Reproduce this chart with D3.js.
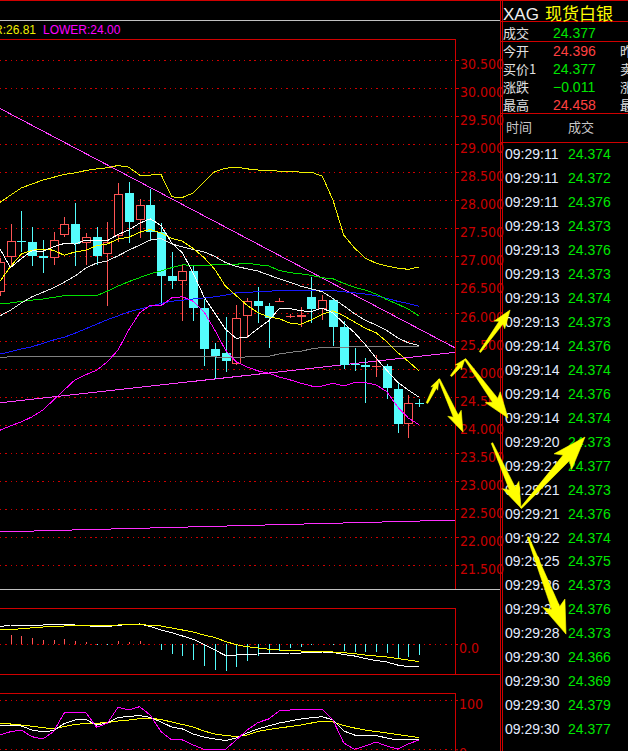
<!DOCTYPE html>
<html><head><meta charset="utf-8">
<script src="https://cdn.jsdelivr.net/npm/d3@7"></script>
<style>
html,body{margin:0;padding:0;background:#000;overflow:hidden;}
svg{display:block;font-family:"Liberation Sans",Arial,sans-serif;}
</style></head><body>
<svg id="c" width="628" height="751"></svg>
<script>
// ---------- DATA ----------
const opens  = [26.37,26.99,27.28,27.25,27.01,26.97,27.39,27.58,27.23,27.34,27.04,27.36,28.13,27.64,27.92,27.44,26.65,26.57,26.74,26.08,25.35,25.28,25.09,25.94,26.21,26.11,26.19,25.92,25.92,26.28,26.06,26.22,25.74,25.09,25.06,25.03,25.05,24.64,24.02,24.396];
const highs  = [26.98,27.58,27.81,27.52,27.29,27.44,27.71,27.96,27.42,27.52,27.62,28.30,28.33,28.03,28.20,27.60,27.08,26.85,26.83,26.24,25.45,25.92,26.13,26.26,26.46,26.17,26.26,25.97,26.09,26.64,26.31,26.25,25.84,25.37,25.19,25.25,25.09,24.74,24.53,24.458];
const lows   = [26.30,26.85,27.07,26.82,26.71,26.85,27.34,26.82,26.85,26.85,26.12,27.26,27.24,27.32,27.29,26.13,26.41,25.84,25.84,25.05,24.81,24.94,25.06,25.54,25.82,25.37,26.19,25.91,25.74,25.82,25.87,25.41,25.00,24.96,24.39,24.85,24.45,23.85,23.77,24.32];
const closes = [26.905,27.27,27.27,27.01,26.98,27.30,27.57,27.22,27.34,27.01,27.26,28.12,27.62,27.92,27.44,26.65,26.57,26.74,26.08,25.35,25.22,25.13,25.91,26.20,26.11,25.91,26.21,25.94,25.96,26.06,26.23,25.75,25.06,25.08,25.02,25.04,24.65,24.02,24.38,24.377];

const ma5  = [27.14,26.80,26.96,27.10,27.09,27.17,27.23,27.22,27.29,27.29,27.28,27.39,27.47,27.59,27.67,27.55,27.24,27.06,26.70,26.28,25.99,25.70,25.54,25.56,25.71,25.85,26.07,26.07,26.03,26.02,26.08,25.99,25.81,25.64,25.43,25.19,24.97,24.76,24.62,24.49];
const ma10 = [26.55,26.82,27.04,27.11,27.13,27.11,27.02,27.08,27.11,27.19,27.22,27.31,27.34,27.43,27.48,27.42,27.32,27.27,27.14,26.98,26.77,26.47,26.30,26.13,26.00,25.92,25.89,25.81,25.79,25.87,25.97,26.03,25.94,25.83,25.72,25.64,25.48,25.29,25.13,24.96];
const ma20 = [25.94,26.04,26.17,26.28,26.36,26.44,26.54,26.65,26.79,26.88,26.92,27.01,27.11,27.20,27.29,27.32,27.22,27.17,27.12,27.08,27.00,26.89,26.82,26.78,26.74,26.67,26.60,26.54,26.47,26.42,26.37,26.25,26.12,25.98,25.86,25.78,25.68,25.55,25.46,25.41];
const maGreen = [26.15,26.17,26.20,26.22,26.24,26.27,26.30,26.30,26.30,26.30,26.38,26.47,26.55,26.62,26.69,26.74,26.80,26.85,26.84,26.84,26.85,26.85,26.86,26.88,26.85,26.83,26.75,26.71,26.69,26.66,26.62,26.60,26.52,26.45,26.40,26.33,26.23,26.15,26.06,25.94];
const maBlue = [25.26,25.30,25.35,25.39,25.45,25.51,25.56,25.63,25.71,25.79,25.87,25.94,26.01,26.06,26.11,26.16,26.20,26.22,26.24,26.26,26.28,26.31,26.35,26.36,26.37,26.38,26.39,26.39,26.39,26.40,26.39,26.39,26.37,26.35,26.33,26.30,26.25,26.20,26.16,26.11];
const maGrey = [25.20,25.21,25.21,25.21,25.21,25.21,25.21,25.21,25.21,25.21,25.21,25.21,25.21,25.22,25.22,25.21,25.21,25.21,25.21,25.21,25.21,25.19,25.19,25.21,25.21,25.22,25.26,25.29,25.31,25.35,25.38,25.38,25.38,25.39,25.39,25.39,25.39,25.39,25.40,25.40];
const bollUpper = [27.96,28.09,28.22,28.29,28.36,28.41,28.46,28.49,28.53,28.56,28.58,28.62,28.59,28.45,28.45,28.46,28.06,28.05,28.13,28.33,28.51,28.57,28.59,28.56,28.54,28.53,28.52,28.52,28.50,28.50,28.43,28.00,27.38,27.15,26.97,26.88,26.83,26.79,26.77,26.81];
const bollLower = [23.90,23.98,24.05,24.14,24.26,24.44,24.62,24.80,24.89,24.97,25.12,25.33,25.69,25.99,26.13,26.12,26.26,26.28,26.20,26.01,25.69,25.33,25.12,25.03,24.96,24.92,24.85,24.80,24.74,24.69,24.69,24.74,24.69,24.75,24.75,24.71,24.59,24.32,24.12,24.00];

// drawn trend lines: [index, price] end points
const trendDown = [[-0.02,29.64],[42.35,25.37]];
const trendUp   = [[-0.02,24.39],[42.35,25.29]];
const trendLow  = [[-0.02,22.09],[42.35,22.30]];

const priceTicks = [30.5,30.0,29.5,29.0,28.5,28.0,27.5,27.0,26.5,26.0,25.5,25.0,24.5,24.0,23.5,23.0,22.5,22.0,21.5];

const macdBar = [0,0.09,0.08,0.057,0.04,0.04,0.05,0.03,0.023,-0.01,-0.01,0.03,0.023,0.033,0,-0.06,-0.103,-0.117,-0.16,-0.22,-0.26,-0.267,-0.227,-0.167,-0.12,-0.10,-0.067,-0.043,-0.033,-0.01,0,-0.01,-0.07,-0.083,-0.083,-0.077,-0.093,-0.143,-0.127,-0.11];
const macdDif = [0.173,0.19,0.19,0.19,0.19,0.195,0.197,0.19,0.187,0.17,0.175,0.187,0.195,0.20,0.175,0.14,0.113,0.08,0.047,-0.003,-0.06,-0.115,-0.11,-0.105,-0.10,-0.095,-0.093,-0.09,-0.09,-0.087,-0.08,-0.085,-0.105,-0.12,-0.145,-0.165,-0.18,-0.21,-0.227,-0.227];
const macdDea = [0.14,0.145,0.152,0.162,0.17,0.177,0.18,0.182,0.183,0.185,0.188,0.19,0.192,0.193,0.188,0.18,0.16,0.14,0.12,0.09,0.065,0.025,-0.007,-0.027,-0.04,-0.052,-0.06,-0.065,-0.07,-0.073,-0.075,-0.08,-0.087,-0.097,-0.11,-0.12,-0.13,-0.145,-0.16,-0.177];
const macdTicks = [0];

const kdjK = [47.3,47.3,47.3,39.1,35.7,37.7,52.3,59.4,60.4,49.3,53.3,64.5,66.5,68.6,64.5,55.4,45.2,41.2,31,24.9,20.9,17.8,22.9,33.1,41.2,47.3,53.3,57.4,61.5,64.1,66.1,59.4,37.1,29,29,28,22.9,18.9,18.9,20.3];
const kdjD = [52.7,51.3,49.3,46.7,44.2,41.2,46.2,50.3,52.3,52.7,54.4,57.4,59.4,62.1,62.9,60.4,55.4,50.3,45.2,37.1,31,28,26,29,36.1,40.2,43.2,46.2,49.3,53.3,57.4,55.4,48.3,43.2,39.1,36.1,33.1,30,27,23.5];
const kdjJ = [29,35.7,39,25.6,20.9,35.7,73.6,75,75,44.6,52.7,85.2,79.7,86.4,69.6,35.7,18.9,18.9,8.7,0,0,0,18.9,39,54,61.5,77.7,79.7,81.7,80.7,81.7,59.4,12.8,0,6.7,14.8,6.7,0.6,10.8,18.9];
const kdjTicks = [100,0];

const quoteName = ["XAG","现货白银"];
const lastLabel = "成交", lastPrice = 24.377;
const quoteLabels = ["今开","买价1","涨跌","最高"];
const quoteValues = [24.396,24.377,-0.011,24.458];
const quoteLabels2 = ["昨收","卖价1","涨幅","最低"];
const tradeHeader = ["时间","成交"];
const tradeTimes = ["09:29:11","09:29:11","09:29:11","09:29:13","09:29:13","09:29:13","09:29:13","09:29:13","09:29:14","09:29:14","09:29:14","09:29:14","09:29:20","09:29:21","09:29:21","09:29:21","09:29:22","09:29:25","09:29:26","09:29:27","09:29:28","09:29:30","09:29:30","09:29:30","09:29:30"];
const tradePrices = [24.374,24.372,24.376,24.373,24.376,24.373,24.374,24.373,24.376,24.374,24.376,24.374,24.373,24.377,24.373,24.376,24.374,24.375,24.373,24.376,24.373,24.366,24.369,24.379,24.377];

// hand-drawn arrows in chart coordinates: [i0, p0, i1, p1]
const arrows = [
  [39.74,24.386,40.86,24.814],
  [40.86,24.814,43.09,23.869],
  [41.98,24.867,43.28,25.17],
  [43.28,25.17,47.28,24.119],
  [44.67,25.295,47.47,26.044],
  [45.79,23.673,48.49,22.514],
  [48.49,22.514,54.44,23.78],
  [49.14,21.997,52.67,20.268]
];

// ---------- DRAW ----------
const svg = d3.select("#c");
const RED = "#d00000", AXRED = "#c80000";
const UP = "#ff5454", DN = "#54fcfc";
const NUM = '"Liberation Sans", Arial, sans-serif';
const CJK = '"Noto Sans CJK SC", "Noto Sans", sans-serif';
const NARROW = '"Liberation Sans Narrow", "DejaVu Sans Condensed", "Liberation Sans", sans-serif';

svg.append("rect").attr("width",628).attr("height",751).attr("fill","#000");

const x = d3.scaleLinear().domain([0,40]).range([-0.25,429.75]);
const y = d3.scaleLinear().domain([21.5,30.5]).range([565,60]);
const yM = d3.scaleLinear().domain([-0.30,0.36]).range([674,608]);
const yK = d3.scaleLinear().domain([0,100]).range([749.3,700]);
const idx = d3.range(opens.length);

function hline(x1,x2,yy,col,dash){
  const l = svg.append("line").attr("x1",x1).attr("x2",x2).attr("y1",yy).attr("y2",yy)
    .attr("stroke",col).attr("shape-rendering","crispEdges");
  if(dash) l.attr("stroke-dasharray",dash);
  return l;
}
function vline(xx,y1,y2,col){
  return svg.append("line").attr("x1",xx).attr("x2",xx).attr("y1",y1).attr("y2",y2)
    .attr("stroke",col).attr("shape-rendering","crispEdges");
}

// frame lines
hline(0,628,0.5,RED);
hline(0,500,20.5,"#c0c0c0");
hline(0,455,39.5,RED);
hline(0,500,589.5,"#c0c0c0");
hline(0,455,608.5,RED);
hline(0,500,674.5,RED);
hline(0,455,693.5,RED);
vline(455.5,39,589,RED);
vline(455.5,608,675,RED);
vline(455.5,693,751,RED);
vline(500.5,0,751,RED);
vline(502.5,0,751,RED);

// header text of main chart
svg.append("text").attr("x",36).attr("y",34).attr("text-anchor","end")
  .attr("fill","#f0f000").style("font-size","12px").style("font-family",NUM)
  .text("UPPER:"+d3.format(".2f")(bollUpper[bollUpper.length-1]));
svg.append("text").attr("x",43).attr("y",34)
  .attr("fill","#ff00ff").style("font-size","12px").style("font-family",NUM)
  .text("LOWER:"+d3.format(".2f")(bollLower[bollLower.length-1]));

// main clip
const defs = svg.append("defs");
defs.append("clipPath").attr("id","mc").append("rect").attr("x",0).attr("y",40).attr("width",455).attr("height",549);
const g = svg.append("g").attr("clip-path","url(#mc)");

// grid
g.selectAll("line.grid").data(priceTicks).join("line").attr("class","grid")
  .attr("x1",0).attr("x2",455)
  .attr("y1",d=>Math.round(y(d))+0.5).attr("y2",d=>Math.round(y(d))+0.5)
  .attr("stroke",RED).attr("stroke-dasharray","1.4,3.9").attr("shape-rendering","crispEdges");

// price axis
const ax = svg.append("g").attr("transform","translate(455,0)")
  .call(d3.axisRight(y).tickValues(priceTicks).tickFormat(d3.format(".3f")).tickSize(4).tickPadding(1));
ax.select(".domain").remove();
ax.selectAll(".tick line").attr("stroke",RED).attr("shape-rendering","crispEdges");
ax.selectAll(".tick").attr("transform",d=>`translate(0,${Math.round(y(d))+0.5})`);
ax.selectAll("text").attr("fill",AXRED).attr("dy","8.3px")
  .style("font-size","14px").style("font-family",NARROW).style("font-stretch","condensed");

// trend lines
const lineP = d3.line().x(d=>x(d[0])).y(d=>y(d[1]));
[[trendDown,"#ff40ff"],[trendUp,"#ff40ff"],[trendLow,"#ff30ff"]].forEach(([d,c])=>{
  g.append("path").attr("d",lineP(d)).attr("fill","none").attr("stroke",c).attr("stroke-width",1)
    .attr("shape-rendering","crispEdges");
});

// candles
const cd = idx.map(i=>({i,o:opens[i],h:highs[i],l:lows[i],c:closes[i]}));
const cg = g.append("g").attr("shape-rendering","crispEdges");
cd.forEach(d=>{
  const cx = Math.round(x(d.i));
  const up = d.c > d.o;
  const col = up ? UP : DN;
  cg.append("line").attr("x1",cx+0.5).attr("x2",cx+0.5).attr("y1",y(d.h)).attr("y2",y(d.l)).attr("stroke",col);
  const top = Math.round(y(Math.max(d.o,d.c))), bot = Math.round(y(Math.min(d.o,d.c)));
  const hgt = bot-top;
  if(hgt < 2){
    cg.append("rect").attr("x",cx-4).attr("y",top).attr("width",9).attr("height",Math.max(1,hgt)).attr("fill",col);
  } else if(up){
    cg.append("rect").attr("x",cx-3.5).attr("y",top+0.5).attr("width",8).attr("height",hgt-1)
      .attr("fill","#000").attr("stroke",col);
  } else {
    cg.append("rect").attr("x",cx-4).attr("y",top).attr("width",9).attr("height",hgt).attr("fill",col);
  }
});

// MA & band lines
const lineI = d3.line().x((d,i)=>x(i)).y(d=>y(d));
[[maGrey,"#808080"],[maBlue,"#1818ff"],[maGreen,"#00e000"],[bollUpper,"#f0f000"],[bollLower,"#ff00ff"],
 [ma20,"#e8e8e8"],[ma10,"#ffff00"],[ma5,"#ffffff"]].forEach(([d,c])=>{
  g.append("path").attr("d",lineI(d)).attr("fill","none").attr("stroke",c).attr("stroke-width",1)
    .attr("shape-rendering","crispEdges");
});

// ---------- MACD ----------
hline(0,455,Math.round(yM(0))+0.5,RED,"1.4,3.9");
const mg = svg.append("g").attr("shape-rendering","crispEdges");
mg.selectAll("line").data(idx).join("line")
  .attr("x1",i=>Math.round(x(i))+0.5).attr("x2",i=>Math.round(x(i))+0.5)
  .attr("y1",yM(0)).attr("y2",i=>yM(macdBar[i]))
  .attr("stroke",i=>macdBar[i]>=0?UP:DN);
const lineM = d3.line().x((d,i)=>x(i)).y(d=>yM(d));
[[macdDif,"#ffffff"],[macdDea,"#ffff00"]].forEach(([d,c])=>{
  svg.append("path").attr("d",lineM(d)).attr("fill","none").attr("stroke",c).attr("shape-rendering","crispEdges");
});
const axM = svg.append("g").attr("transform","translate(455,0)")
  .call(d3.axisRight(yM).tickValues(macdTicks).tickFormat(d3.format(".1f")).tickSize(3).tickPadding(1));
axM.select(".domain").remove();
axM.selectAll(".tick line").attr("stroke",RED);
axM.selectAll("text").attr("fill",AXRED).attr("dy","8px").style("font-size","14px").style("font-family",NARROW).style("font-stretch","condensed");

// ---------- KDJ ----------
kdjTicks.forEach(t=>hline(0,455,Math.round(yK(t))+0.5,RED,"1.4,3.9"));
const lineK = d3.line().x((d,i)=>x(i)).y(d=>yK(d));
[[kdjD,"#ffff00"],[kdjK,"#ffffff"],[kdjJ,"#ff00ff"]].forEach(([d,c])=>{
  svg.append("path").attr("d",lineK(d)).attr("fill","none").attr("stroke",c).attr("shape-rendering","crispEdges");
});
const axK = svg.append("g").attr("transform","translate(455,0)")
  .call(d3.axisRight(yK).tickValues(kdjTicks).tickFormat(d3.format("d")).tickSize(3).tickPadding(1));
axK.select(".domain").remove();
axK.selectAll(".tick line").attr("stroke",RED);
axK.selectAll("text").attr("fill",AXRED).attr("dy","8px").style("font-size","14px").style("font-family",NARROW).style("font-stretch","condensed");

// ---------- RIGHT PANEL ----------
hline(501,628,21.5,RED);
hline(501,628,41.5,RED);
hline(501,628,113.5,RED);
hline(501,628,142.5,RED);

function txt(xx,yy,s,col,size,fam){
  return svg.append("text").attr("x",xx).attr("y",yy).attr("fill",col)
    .style("font-size",size+"px").style("font-family",fam).text(s);
}
txt(503,19.5,quoteName[0],"#f0f0f0",17,NUM);
txt(545,19.5,quoteName[1],"#ffff00",17,CJK);
txt(503,38,lastLabel,"#e0e0e0",13,CJK);
txt(553,38,d3.format(".3f")(lastPrice),"#00e600",14,NUM);

const prevClose = lastPrice - quoteValues[2];
const rowBase = [56,74,92.3,110];
quoteLabels.forEach((lab,k)=>{
  txt(503,rowBase[k]-0.5,lab,"#e0e0e0",13,CJK);
  const v = quoteValues[k];
  let col;
  if(k===2) col = v<0 ? "#00e600" : "#ff4040";
  else col = v>prevClose+1e-9 ? "#ff4040" : "#00e600";
  txt(553,rowBase[k],d3.format(".3f")(v),col,14,NUM);
  txt(620,rowBase[k]-0.5,quoteLabels2[k],"#e0e0e0",13,CJK);
});

txt(506,132,tradeHeader[0],"#c8c8c8",13,CJK);
txt(568,132,tradeHeader[1],"#c8c8c8",13,CJK);
tradeTimes.forEach((t,k)=>{
  const base = 159.3 + 23.95*k;
  txt(505,base,t,"#e4ecff",14,NUM);
  txt(568,base,d3.format(".3f")(tradePrices[k]),tradePrices[k]>prevClose?"#ff4040":"#00e600",14,NUM);
});

// ---------- ARROWS ----------
function arrowPath(x1,y1,x2,y2){
  const dx=x2-x1, dy=y2-y1, L=Math.hypot(dx,dy), ux=dx/L, uy=dy/L, nx=-uy, ny=ux;
  const hl=Math.max(9,Math.min(28,0.3*L)), hw=hl*0.42;
  const w0=0.8, w1=Math.max(1.8,hl*0.15);
  const bx=x2-ux*hl, by=y2-uy*hl;
  const sb=hl*0.18;
  const pts=[[x1+nx*w0,y1+ny*w0],[bx+nx*w1,by+ny*w1],[bx-ux*sb+nx*hw,by-uy*sb+ny*hw],[x2,y2],
             [bx-ux*sb-nx*hw,by-uy*sb-ny*hw],[bx-nx*w1,by-ny*w1],[x1-nx*w0,y1-ny*w0]];
  return "M"+pts.map(p=>p[0].toFixed(1)+","+p[1].toFixed(1)).join("L")+"Z";
}
svg.append("g").selectAll("path").data(arrows).join("path")
  .attr("d",a=>arrowPath(x(a[0]),y(a[1]),x(a[2]),y(a[3])))
  .attr("fill","#ffff00").attr("stroke","#ffff00").attr("stroke-width",0.6);
</script>
</body></html>
